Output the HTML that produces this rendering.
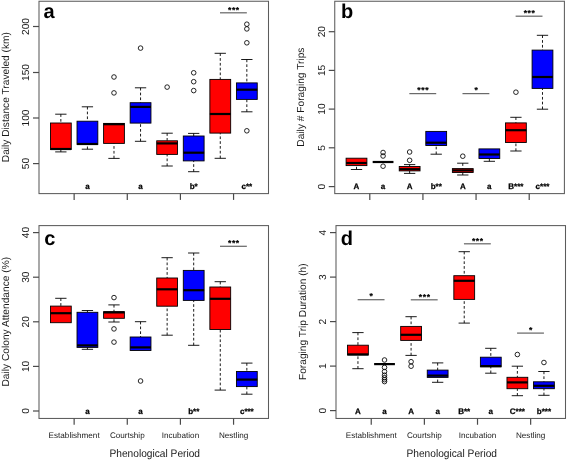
<!DOCTYPE html>
<html><head><meta charset="utf-8"><title>Boxplots</title><style>
html,body{margin:0;padding:0;background:#fff;}
svg{display:block;will-change:transform;}
text{font-family:"Liberation Sans",sans-serif;fill:#000;text-rendering:geometricPrecision;}
.wk{stroke:#000;stroke-width:0.9;stroke-dasharray:2.7 2.1;}
.cap{stroke:#000;stroke-width:0.9;}
.bx{stroke:#000;stroke-width:0.9;}
.md{stroke:#000;stroke-width:2.2;}
.ol{fill:none;stroke:#000;stroke-width:0.85;}
.sg{stroke:#6a6a6a;stroke-width:1.25;}
.st{font-size:8.5px;font-weight:bold;text-anchor:middle;stroke:#000;stroke-width:0.2;letter-spacing:0.6px;}
.lt{font-size:8px;font-weight:bold;text-anchor:middle;stroke:#000;stroke-width:0.25;}
.fr{fill:none;stroke:#5c5c5c;stroke-width:1.05;}
.tk{stroke:#4a4a4a;stroke-width:1.2;}
.yl{font-size:10.2px;text-anchor:middle;fill:#1a1a1a;}
.xl{font-size:8.15px;text-anchor:middle;fill:#1a1a1a;}
.xt{font-size:10.9px;text-anchor:middle;fill:#1a1a1a;}
.yt{font-size:10.2px;text-anchor:middle;fill:#1a1a1a;}
.pl{font-size:20px;font-weight:bold;}
</style></head><body>
<svg width="567" height="460" viewBox="0 0 567 460">
<rect width="567" height="460" fill="#fff"/>
<line x1="60.85" y1="114.2" x2="60.85" y2="123" class="wk"/>
<line x1="55.2" y1="114.2" x2="66.5" y2="114.2" class="cap"/>
<line x1="60.85" y1="151.9" x2="60.85" y2="149.5" class="wk"/>
<line x1="55.2" y1="151.9" x2="66.5" y2="151.9" class="cap"/>
<rect x="50.45" y="123" width="20.8" height="26.5" fill="#ff0000" class="bx"/>
<line x1="50.45" y1="149" x2="71.25" y2="149" class="md"/>
<line x1="87.42" y1="106.8" x2="87.42" y2="121.2" class="wk"/>
<line x1="81.77" y1="106.8" x2="93.07" y2="106.8" class="cap"/>
<line x1="87.42" y1="149.2" x2="87.42" y2="144.4" class="wk"/>
<line x1="81.77" y1="149.2" x2="93.07" y2="149.2" class="cap"/>
<rect x="77.02" y="121.2" width="20.8" height="23.2" fill="#0000ff" class="bx"/>
<line x1="77.02" y1="144" x2="97.82" y2="144" class="md"/>
<line x1="113.99" y1="158.4" x2="113.99" y2="143.4" class="wk"/>
<line x1="108.34" y1="158.4" x2="119.64" y2="158.4" class="cap"/>
<rect x="103.59" y="123.4" width="20.8" height="20" fill="#ff0000" class="bx"/>
<line x1="103.59" y1="124.2" x2="124.39" y2="124.2" class="md"/>
<circle cx="113.99" cy="77" r="2.3" class="ol"/>
<circle cx="113.99" cy="92.9" r="2.3" class="ol"/>
<line x1="140.56" y1="87.8" x2="140.56" y2="102.7" class="wk"/>
<line x1="134.91" y1="87.8" x2="146.21" y2="87.8" class="cap"/>
<line x1="140.56" y1="141.3" x2="140.56" y2="123.1" class="wk"/>
<line x1="134.91" y1="141.3" x2="146.21" y2="141.3" class="cap"/>
<rect x="130.16" y="102.7" width="20.8" height="20.4" fill="#0000ff" class="bx"/>
<line x1="130.16" y1="106.9" x2="150.96" y2="106.9" class="md"/>
<circle cx="140.56" cy="48.1" r="2.3" class="ol"/>
<line x1="167.13" y1="133.2" x2="167.13" y2="140.8" class="wk"/>
<line x1="161.48" y1="133.2" x2="172.78" y2="133.2" class="cap"/>
<line x1="167.13" y1="166" x2="167.13" y2="154.4" class="wk"/>
<line x1="161.48" y1="166" x2="172.78" y2="166" class="cap"/>
<rect x="156.73" y="140.8" width="20.8" height="13.6" fill="#ff0000" class="bx"/>
<line x1="156.73" y1="143.4" x2="177.53" y2="143.4" class="md"/>
<circle cx="167.13" cy="87.1" r="2.3" class="ol"/>
<line x1="193.7" y1="133.4" x2="193.7" y2="136" class="wk"/>
<line x1="188.05" y1="133.4" x2="199.35" y2="133.4" class="cap"/>
<line x1="193.7" y1="171.7" x2="193.7" y2="160.9" class="wk"/>
<line x1="188.05" y1="171.7" x2="199.35" y2="171.7" class="cap"/>
<rect x="183.3" y="136" width="20.8" height="24.9" fill="#0000ff" class="bx"/>
<line x1="183.3" y1="152.7" x2="204.1" y2="152.7" class="md"/>
<circle cx="193.7" cy="72.8" r="2.3" class="ol"/>
<circle cx="193.7" cy="81.7" r="2.3" class="ol"/>
<circle cx="193.7" cy="90.6" r="2.3" class="ol"/>
<line x1="220.27" y1="53.3" x2="220.27" y2="79.4" class="wk"/>
<line x1="214.62" y1="53.3" x2="225.92" y2="53.3" class="cap"/>
<line x1="220.27" y1="158.3" x2="220.27" y2="133.1" class="wk"/>
<line x1="214.62" y1="158.3" x2="225.92" y2="158.3" class="cap"/>
<rect x="209.87" y="79.4" width="20.8" height="53.7" fill="#ff0000" class="bx"/>
<line x1="209.87" y1="114" x2="230.67" y2="114" class="md"/>
<line x1="246.84" y1="59.5" x2="246.84" y2="82.9" class="wk"/>
<line x1="241.19" y1="59.5" x2="252.49" y2="59.5" class="cap"/>
<line x1="246.84" y1="111.8" x2="246.84" y2="99.4" class="wk"/>
<line x1="241.19" y1="111.8" x2="252.49" y2="111.8" class="cap"/>
<rect x="236.44" y="82.9" width="20.8" height="16.5" fill="#0000ff" class="bx"/>
<line x1="236.44" y1="89.7" x2="257.24" y2="89.7" class="md"/>
<circle cx="246.84" cy="24.2" r="2.3" class="ol"/>
<circle cx="246.84" cy="28.9" r="2.3" class="ol"/>
<circle cx="246.84" cy="42.8" r="2.3" class="ol"/>
<circle cx="246.84" cy="130.8" r="2.3" class="ol"/>
<line x1="219.97" y1="12.8" x2="246.84" y2="12.8" class="sg"/>
<text x="233.86" y="12.5" class="st">***</text>
<text x="87.42" y="189.2" class="lt">a</text>
<text x="140.56" y="189.2" class="lt">a</text>
<text x="193.7" y="189.2" class="lt">b*</text>
<text x="246.84" y="189.2" class="lt">c**</text>
<rect x="39" y="1.25" width="229.5" height="192.35" class="fr"/>
<line x1="33" y1="26.5" x2="39" y2="26.5" class="tk"/>
<text transform="translate(29.1,26.5) rotate(-90)" class="yl">200</text>
<line x1="33" y1="72.5" x2="39" y2="72.5" class="tk"/>
<text transform="translate(29.1,72.5) rotate(-90)" class="yl">150</text>
<line x1="33" y1="118" x2="39" y2="118" class="tk"/>
<text transform="translate(29.1,118) rotate(-90)" class="yl">100</text>
<line x1="33" y1="163.6" x2="39" y2="163.6" class="tk"/>
<text transform="translate(29.1,163.6) rotate(-90)" class="yl">50</text>
<line x1="74.14" y1="193.6" x2="74.14" y2="199.9" class="tk"/>
<line x1="127.28" y1="193.6" x2="127.28" y2="199.9" class="tk"/>
<line x1="180.41" y1="193.6" x2="180.41" y2="199.9" class="tk"/>
<line x1="233.56" y1="193.6" x2="233.56" y2="199.9" class="tk"/>
<text transform="translate(8.5,97.12) rotate(-90)" class="yt">Daily Distance Traveled (km)</text>
<text x="43.6" y="18" class="pl">a</text>
<line x1="356.5" y1="169.5" x2="356.5" y2="165.6" class="wk"/>
<line x1="350.85" y1="169.5" x2="362.15" y2="169.5" class="cap"/>
<rect x="346.1" y="158.2" width="20.8" height="7.4" fill="#ff0000" class="bx"/>
<line x1="346.1" y1="163" x2="366.9" y2="163" class="md"/>
<line x1="372.67" y1="162" x2="393.47" y2="162" class="md"/>
<circle cx="383.07" cy="152.5" r="2.3" class="ol"/>
<circle cx="383.07" cy="156" r="2.3" class="ol"/>
<circle cx="383.07" cy="166.2" r="2.3" class="ol"/>
<line x1="409.64" y1="164.6" x2="409.64" y2="166.5" class="wk"/>
<line x1="403.99" y1="164.6" x2="415.29" y2="164.6" class="cap"/>
<line x1="409.64" y1="173.4" x2="409.64" y2="170.9" class="wk"/>
<line x1="403.99" y1="173.4" x2="415.29" y2="173.4" class="cap"/>
<rect x="399.24" y="166.5" width="20.8" height="4.4" fill="#ff0000" class="bx"/>
<line x1="399.24" y1="169.2" x2="420.04" y2="169.2" class="md"/>
<circle cx="409.64" cy="152" r="2.3" class="ol"/>
<circle cx="409.64" cy="160.3" r="2.3" class="ol"/>
<line x1="436.21" y1="154.2" x2="436.21" y2="145.5" class="wk"/>
<line x1="430.56" y1="154.2" x2="441.86" y2="154.2" class="cap"/>
<rect x="425.81" y="131.4" width="20.8" height="14.1" fill="#0000ff" class="bx"/>
<line x1="425.81" y1="142.7" x2="446.61" y2="142.7" class="md"/>
<line x1="462.78" y1="163.2" x2="462.78" y2="168.6" class="wk"/>
<line x1="457.13" y1="163.2" x2="468.43" y2="163.2" class="cap"/>
<line x1="462.78" y1="175" x2="462.78" y2="172.5" class="wk"/>
<line x1="457.13" y1="175" x2="468.43" y2="175" class="cap"/>
<rect x="452.38" y="168.6" width="20.8" height="3.9" fill="#ff0000" class="bx"/>
<line x1="452.38" y1="170.4" x2="473.18" y2="170.4" class="md"/>
<circle cx="462.78" cy="156.2" r="2.3" class="ol"/>
<line x1="489.35" y1="161.3" x2="489.35" y2="158.5" class="wk"/>
<line x1="483.7" y1="161.3" x2="495" y2="161.3" class="cap"/>
<rect x="478.95" y="148.9" width="20.8" height="9.6" fill="#0000ff" class="bx"/>
<line x1="478.95" y1="154.5" x2="499.75" y2="154.5" class="md"/>
<line x1="515.92" y1="117.3" x2="515.92" y2="122.9" class="wk"/>
<line x1="510.27" y1="117.3" x2="521.57" y2="117.3" class="cap"/>
<line x1="515.92" y1="151" x2="515.92" y2="142.5" class="wk"/>
<line x1="510.27" y1="151" x2="521.57" y2="151" class="cap"/>
<rect x="505.52" y="122.9" width="20.8" height="19.6" fill="#ff0000" class="bx"/>
<line x1="505.52" y1="130.2" x2="526.32" y2="130.2" class="md"/>
<circle cx="515.92" cy="92.2" r="2.3" class="ol"/>
<line x1="542.49" y1="35.3" x2="542.49" y2="50.1" class="wk"/>
<line x1="536.84" y1="35.3" x2="548.14" y2="35.3" class="cap"/>
<line x1="542.49" y1="109.2" x2="542.49" y2="88.4" class="wk"/>
<line x1="536.84" y1="109.2" x2="548.14" y2="109.2" class="cap"/>
<rect x="532.09" y="50.1" width="20.8" height="38.3" fill="#0000ff" class="bx"/>
<line x1="532.09" y1="77" x2="552.89" y2="77" class="md"/>
<line x1="409.34" y1="93.6" x2="436.21" y2="93.6" class="sg"/>
<text x="423.23" y="93.3" class="st">***</text>
<line x1="462.48" y1="93.6" x2="489.35" y2="93.6" class="sg"/>
<text x="476.37" y="93.3" class="st">*</text>
<line x1="515.62" y1="16.2" x2="542.49" y2="16.2" class="sg"/>
<text x="529.5" y="15.9" class="st">***</text>
<text x="356.5" y="189.2" class="lt">A</text>
<text x="383.07" y="189.2" class="lt">a</text>
<text x="409.64" y="189.2" class="lt">A</text>
<text x="436.21" y="189.2" class="lt">b**</text>
<text x="462.78" y="189.2" class="lt">A</text>
<text x="489.35" y="189.2" class="lt">a</text>
<text x="515.92" y="189.2" class="lt">B***</text>
<text x="542.49" y="189.2" class="lt">c***</text>
<rect x="334.75" y="1.25" width="229.65" height="192.35" class="fr"/>
<line x1="328.75" y1="31.7" x2="334.75" y2="31.7" class="tk"/>
<text transform="translate(324.85,31.7) rotate(-90)" class="yl">20</text>
<line x1="328.75" y1="70.4" x2="334.75" y2="70.4" class="tk"/>
<text transform="translate(324.85,70.4) rotate(-90)" class="yl">15</text>
<line x1="328.75" y1="109.1" x2="334.75" y2="109.1" class="tk"/>
<text transform="translate(324.85,109.1) rotate(-90)" class="yl">10</text>
<line x1="328.75" y1="147.8" x2="334.75" y2="147.8" class="tk"/>
<text transform="translate(324.85,147.8) rotate(-90)" class="yl">5</text>
<line x1="328.75" y1="186.6" x2="334.75" y2="186.6" class="tk"/>
<text transform="translate(324.85,186.6) rotate(-90)" class="yl">0</text>
<line x1="369.79" y1="193.6" x2="369.79" y2="199.9" class="tk"/>
<line x1="422.93" y1="193.6" x2="422.93" y2="199.9" class="tk"/>
<line x1="476.06" y1="193.6" x2="476.06" y2="199.9" class="tk"/>
<line x1="529.21" y1="193.6" x2="529.21" y2="199.9" class="tk"/>
<text transform="translate(304.25,97.12) rotate(-90)" class="yt">Daily # Foraging Trips</text>
<text x="340.9" y="17.7" class="pl">b</text>
<line x1="60.85" y1="298.3" x2="60.85" y2="306.1" class="wk"/>
<line x1="55.2" y1="298.3" x2="66.5" y2="298.3" class="cap"/>
<rect x="50.45" y="306.1" width="20.8" height="16.6" fill="#ff0000" class="bx"/>
<line x1="50.45" y1="313.2" x2="71.25" y2="313.2" class="md"/>
<line x1="87.42" y1="310.5" x2="87.42" y2="312.3" class="wk"/>
<line x1="81.77" y1="310.5" x2="93.07" y2="310.5" class="cap"/>
<line x1="87.42" y1="349.3" x2="87.42" y2="347.4" class="wk"/>
<line x1="81.77" y1="349.3" x2="93.07" y2="349.3" class="cap"/>
<rect x="77.02" y="312.3" width="20.8" height="35.1" fill="#0000ff" class="bx"/>
<line x1="77.02" y1="345.4" x2="97.82" y2="345.4" class="md"/>
<line x1="113.99" y1="304.9" x2="113.99" y2="311.7" class="wk"/>
<line x1="108.34" y1="304.9" x2="119.64" y2="304.9" class="cap"/>
<line x1="113.99" y1="322" x2="113.99" y2="318.3" class="wk"/>
<line x1="108.34" y1="322" x2="119.64" y2="322" class="cap"/>
<rect x="103.59" y="311.7" width="20.8" height="6.6" fill="#ff0000" class="bx"/>
<line x1="103.59" y1="312.4" x2="124.39" y2="312.4" class="md"/>
<circle cx="113.99" cy="297.6" r="2.3" class="ol"/>
<circle cx="113.99" cy="328.9" r="2.3" class="ol"/>
<circle cx="113.99" cy="342.1" r="2.3" class="ol"/>
<line x1="140.56" y1="321.7" x2="140.56" y2="337" class="wk"/>
<line x1="134.91" y1="321.7" x2="146.21" y2="321.7" class="cap"/>
<rect x="130.16" y="337" width="20.8" height="13.5" fill="#0000ff" class="bx"/>
<line x1="130.16" y1="347.4" x2="150.96" y2="347.4" class="md"/>
<circle cx="140.56" cy="381" r="2.3" class="ol"/>
<line x1="167.13" y1="257.7" x2="167.13" y2="278" class="wk"/>
<line x1="161.48" y1="257.7" x2="172.78" y2="257.7" class="cap"/>
<line x1="167.13" y1="335.2" x2="167.13" y2="306.2" class="wk"/>
<line x1="161.48" y1="335.2" x2="172.78" y2="335.2" class="cap"/>
<rect x="156.73" y="278" width="20.8" height="28.2" fill="#ff0000" class="bx"/>
<line x1="156.73" y1="289.3" x2="177.53" y2="289.3" class="md"/>
<line x1="193.7" y1="253" x2="193.7" y2="270.4" class="wk"/>
<line x1="188.05" y1="253" x2="199.35" y2="253" class="cap"/>
<line x1="193.7" y1="345.3" x2="193.7" y2="300.4" class="wk"/>
<line x1="188.05" y1="345.3" x2="199.35" y2="345.3" class="cap"/>
<rect x="183.3" y="270.4" width="20.8" height="30" fill="#0000ff" class="bx"/>
<line x1="183.3" y1="290.2" x2="204.1" y2="290.2" class="md"/>
<line x1="220.27" y1="281.7" x2="220.27" y2="287" class="wk"/>
<line x1="214.62" y1="281.7" x2="225.92" y2="281.7" class="cap"/>
<line x1="220.27" y1="390.1" x2="220.27" y2="329.5" class="wk"/>
<line x1="214.62" y1="390.1" x2="225.92" y2="390.1" class="cap"/>
<rect x="209.87" y="287" width="20.8" height="42.5" fill="#ff0000" class="bx"/>
<line x1="209.87" y1="298.8" x2="230.67" y2="298.8" class="md"/>
<line x1="246.84" y1="363.1" x2="246.84" y2="371.5" class="wk"/>
<line x1="241.19" y1="363.1" x2="252.49" y2="363.1" class="cap"/>
<line x1="246.84" y1="394.2" x2="246.84" y2="386.6" class="wk"/>
<line x1="241.19" y1="394.2" x2="252.49" y2="394.2" class="cap"/>
<rect x="236.44" y="371.5" width="20.8" height="15.1" fill="#0000ff" class="bx"/>
<line x1="236.44" y1="379.6" x2="257.24" y2="379.6" class="md"/>
<line x1="219.97" y1="246.3" x2="246.84" y2="246.3" class="sg"/>
<text x="233.86" y="246" class="st">***</text>
<text x="87.42" y="414.3" class="lt">a</text>
<text x="140.56" y="414.3" class="lt">a</text>
<text x="193.7" y="414.3" class="lt">b**</text>
<text x="246.84" y="414.3" class="lt">c***</text>
<rect x="39" y="225.6" width="229.5" height="192.85" class="fr"/>
<line x1="33" y1="232.6" x2="39" y2="232.6" class="tk"/>
<text transform="translate(29.1,232.6) rotate(-90)" class="yl">40</text>
<line x1="33" y1="277.2" x2="39" y2="277.2" class="tk"/>
<text transform="translate(29.1,277.2) rotate(-90)" class="yl">30</text>
<line x1="33" y1="321.8" x2="39" y2="321.8" class="tk"/>
<text transform="translate(29.1,321.8) rotate(-90)" class="yl">20</text>
<line x1="33" y1="366.4" x2="39" y2="366.4" class="tk"/>
<text transform="translate(29.1,366.4) rotate(-90)" class="yl">10</text>
<line x1="33" y1="411" x2="39" y2="411" class="tk"/>
<text transform="translate(29.1,411) rotate(-90)" class="yl">0</text>
<line x1="74.14" y1="418.45" x2="74.14" y2="424.75" class="tk"/>
<text x="74.14" y="438.15" class="xl">Establishment</text>
<line x1="127.28" y1="418.45" x2="127.28" y2="424.75" class="tk"/>
<text x="127.28" y="438.15" class="xl">Courtship</text>
<line x1="180.41" y1="418.45" x2="180.41" y2="424.75" class="tk"/>
<text x="180.41" y="438.15" class="xl">Incubation</text>
<line x1="233.56" y1="418.45" x2="233.56" y2="424.75" class="tk"/>
<text x="233.56" y="438.15" class="xl">Nestling</text>
<text transform="translate(154.75,457.3) scale(0.935,1)" class="xt">Phenological Period</text>
<text transform="translate(8.5,321.72) rotate(-90)" class="yt">Daily Colony Attendance (%)</text>
<text x="44.3" y="245.2" class="pl">c</text>
<line x1="357.95" y1="332.6" x2="357.95" y2="345.2" class="wk"/>
<line x1="352.3" y1="332.6" x2="363.6" y2="332.6" class="cap"/>
<line x1="357.95" y1="368.7" x2="357.95" y2="355" class="wk"/>
<line x1="352.3" y1="368.7" x2="363.6" y2="368.7" class="cap"/>
<rect x="347.55" y="345.2" width="20.8" height="9.8" fill="#ff0000" class="bx"/>
<line x1="347.55" y1="354.4" x2="368.35" y2="354.4" class="md"/>
<line x1="374.12" y1="364.1" x2="394.92" y2="364.1" class="md"/>
<circle cx="384.52" cy="360" r="2.3" class="ol"/>
<circle cx="384.52" cy="367.4" r="2.3" class="ol"/>
<circle cx="384.52" cy="371.6" r="2.3" class="ol"/>
<circle cx="384.52" cy="375.2" r="2.3" class="ol"/>
<circle cx="384.52" cy="377.7" r="2.3" class="ol"/>
<circle cx="384.52" cy="379.7" r="2.3" class="ol"/>
<circle cx="384.52" cy="381.6" r="2.3" class="ol"/>
<line x1="411.09" y1="316.7" x2="411.09" y2="326.4" class="wk"/>
<line x1="405.44" y1="316.7" x2="416.74" y2="316.7" class="cap"/>
<line x1="411.09" y1="355.4" x2="411.09" y2="340.4" class="wk"/>
<line x1="405.44" y1="355.4" x2="416.74" y2="355.4" class="cap"/>
<rect x="400.69" y="326.4" width="20.8" height="14" fill="#ff0000" class="bx"/>
<line x1="400.69" y1="334.8" x2="421.49" y2="334.8" class="md"/>
<circle cx="411.09" cy="361.7" r="2.3" class="ol"/>
<circle cx="411.09" cy="366.2" r="2.3" class="ol"/>
<line x1="437.66" y1="362.9" x2="437.66" y2="370.1" class="wk"/>
<line x1="432.01" y1="362.9" x2="443.31" y2="362.9" class="cap"/>
<line x1="437.66" y1="382.3" x2="437.66" y2="377.4" class="wk"/>
<line x1="432.01" y1="382.3" x2="443.31" y2="382.3" class="cap"/>
<rect x="427.26" y="370.1" width="20.8" height="7.3" fill="#0000ff" class="bx"/>
<line x1="427.26" y1="375.6" x2="448.06" y2="375.6" class="md"/>
<line x1="464.23" y1="251.7" x2="464.23" y2="275.7" class="wk"/>
<line x1="458.58" y1="251.7" x2="469.88" y2="251.7" class="cap"/>
<line x1="464.23" y1="323.1" x2="464.23" y2="299.4" class="wk"/>
<line x1="458.58" y1="323.1" x2="469.88" y2="323.1" class="cap"/>
<rect x="453.83" y="275.7" width="20.8" height="23.7" fill="#ff0000" class="bx"/>
<line x1="453.83" y1="280.8" x2="474.63" y2="280.8" class="md"/>
<line x1="490.8" y1="348.3" x2="490.8" y2="357.2" class="wk"/>
<line x1="485.15" y1="348.3" x2="496.45" y2="348.3" class="cap"/>
<line x1="490.8" y1="373.2" x2="490.8" y2="366.8" class="wk"/>
<line x1="485.15" y1="373.2" x2="496.45" y2="373.2" class="cap"/>
<rect x="480.4" y="357.2" width="20.8" height="9.6" fill="#0000ff" class="bx"/>
<line x1="480.4" y1="366.1" x2="501.2" y2="366.1" class="md"/>
<line x1="517.37" y1="366.2" x2="517.37" y2="377.3" class="wk"/>
<line x1="511.72" y1="366.2" x2="523.02" y2="366.2" class="cap"/>
<line x1="517.37" y1="395.7" x2="517.37" y2="388.7" class="wk"/>
<line x1="511.72" y1="395.7" x2="523.02" y2="395.7" class="cap"/>
<rect x="506.97" y="377.3" width="20.8" height="11.4" fill="#ff0000" class="bx"/>
<line x1="506.97" y1="382.4" x2="527.77" y2="382.4" class="md"/>
<circle cx="517.37" cy="354.5" r="2.3" class="ol"/>
<line x1="543.94" y1="371.5" x2="543.94" y2="381.8" class="wk"/>
<line x1="538.29" y1="371.5" x2="549.59" y2="371.5" class="cap"/>
<line x1="543.94" y1="395.3" x2="543.94" y2="388.7" class="wk"/>
<line x1="538.29" y1="395.3" x2="549.59" y2="395.3" class="cap"/>
<rect x="533.54" y="381.8" width="20.8" height="6.9" fill="#0000ff" class="bx"/>
<line x1="533.54" y1="385.8" x2="554.34" y2="385.8" class="md"/>
<circle cx="543.94" cy="362.5" r="2.3" class="ol"/>
<line x1="357.65" y1="299.7" x2="384.52" y2="299.7" class="sg"/>
<text x="371.54" y="299.4" class="st">*</text>
<line x1="410.79" y1="299.8" x2="437.66" y2="299.8" class="sg"/>
<text x="424.68" y="299.5" class="st">***</text>
<line x1="463.93" y1="243.8" x2="490.8" y2="243.8" class="sg"/>
<text x="477.81" y="243.5" class="st">***</text>
<line x1="517.07" y1="333.1" x2="543.94" y2="333.1" class="sg"/>
<text x="530.95" y="332.8" class="st">*</text>
<text x="357.95" y="414.3" class="lt">A</text>
<text x="384.52" y="414.3" class="lt">a</text>
<text x="411.09" y="414.3" class="lt">A</text>
<text x="437.66" y="414.3" class="lt">a</text>
<text x="464.23" y="414.3" class="lt">B**</text>
<text x="490.8" y="414.3" class="lt">a</text>
<text x="517.37" y="414.3" class="lt">C***</text>
<text x="543.94" y="414.3" class="lt">b***</text>
<rect x="336" y="225.6" width="229.5" height="192.85" class="fr"/>
<line x1="330" y1="232.6" x2="336" y2="232.6" class="tk"/>
<text transform="translate(326.1,232.6) rotate(-90)" class="yl">4</text>
<line x1="330" y1="277.1" x2="336" y2="277.1" class="tk"/>
<text transform="translate(326.1,277.1) rotate(-90)" class="yl">3</text>
<line x1="330" y1="321.6" x2="336" y2="321.6" class="tk"/>
<text transform="translate(326.1,321.6) rotate(-90)" class="yl">2</text>
<line x1="330" y1="366.1" x2="336" y2="366.1" class="tk"/>
<text transform="translate(326.1,366.1) rotate(-90)" class="yl">1</text>
<line x1="330" y1="410.6" x2="336" y2="410.6" class="tk"/>
<text transform="translate(326.1,410.6) rotate(-90)" class="yl">0</text>
<line x1="371.24" y1="418.45" x2="371.24" y2="424.75" class="tk"/>
<text x="371.24" y="438.15" class="xl">Establishment</text>
<line x1="424.38" y1="418.45" x2="424.38" y2="424.75" class="tk"/>
<text x="424.38" y="438.15" class="xl">Courtship</text>
<line x1="477.51" y1="418.45" x2="477.51" y2="424.75" class="tk"/>
<text x="477.51" y="438.15" class="xl">Incubation</text>
<line x1="530.65" y1="418.45" x2="530.65" y2="424.75" class="tk"/>
<text x="530.65" y="438.15" class="xl">Nestling</text>
<text transform="translate(451.75,457.3) scale(0.935,1)" class="xt">Phenological Period</text>
<text transform="translate(305.5,321.72) rotate(-90)" class="yt">Foraging Trip Duration (h)</text>
<text x="340.8" y="245.3" class="pl">d</text>
</svg>
</body></html>
